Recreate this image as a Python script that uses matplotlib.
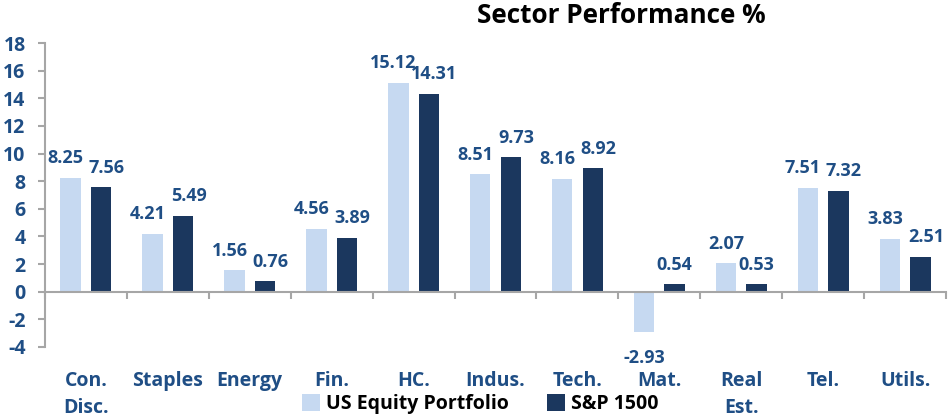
import numpy as np
import matplotlib
matplotlib.use("Agg")
from matplotlib import pyplot as plt

sectors = ["Con.\nDisc.", "Staples", "Energy", "Fin.", "HC.", "Indus.", "Tech.",
           "Mat.", "Real\nEst.", "Tel.", "Utils."]
portfolio = [8.25, 4.21, 1.56, 4.56, 15.12, 8.51, 8.16, -2.93, 2.07, 7.51, 3.83]
sp1500 = [7.56, 5.49, 0.76, 3.89, 14.31, 9.73, 8.92, 0.54, 0.53, 7.32, 2.51]
yticks = np.arange(-4, 19, 2)

light = "#C6D9F1"
dark = "#1B375E"
label_blue = "#1F4E85"
axis_gray = "#A6A6A6"

plt.rcParams['font.family'] = ['Open Sans', 'DejaVu Sans']
plt.rcParams['font.weight'] = 'bold'

fig = plt.figure(figsize=(9.51, 4.18), dpi=100)
ax = fig.add_axes([0.0473, 0.170, 0.9475, 0.727])

x = np.arange(len(sectors))
w = 0.25
off = 0.187
b1 = ax.bar(x - off, portfolio, w, color=light, label="US Equity Portfolio")
b2 = ax.bar(x + off, sp1500, w, color=dark, label="S&P 1500")


def add_label(rect, v, dx):
    cx = rect.get_x() + rect.get_width() / 2
    if v >= 0:
        ax.annotate(f"{v:.2f}", (cx, v), xytext=(dx, 10.5), textcoords="offset points",
                    ha="center", va="baseline", fontsize=13, color=label_blue,
                    fontweight="bold")
    else:
        ax.annotate(f"{v:.2f}", (cx, v), xytext=(dx, -12), textcoords="offset points",
                    ha="center", va="top", fontsize=13, color=label_blue,
                    fontweight="bold")


# nudge the two labels apart when they sit at nearly the same height
for r1, r2, v1, v2 in zip(b1, b2, portfolio, sp1500):
    close = abs(v1 - v2) < 1.5 and v1 >= 0 and v2 >= 0
    add_label(r1, v1, -3.5 if close else 0)
    add_label(r2, v2, 4 if close else 0)

ax.set_xlim(-0.5, len(sectors) - 0.5)
ax.set_ylim(-4, 18)
ax.set_yticks(yticks)
ax.set_yticklabels([str(t) for t in yticks])

for s in ["top", "right"]:
    ax.spines[s].set_visible(False)
ax.spines["bottom"].set_position(("data", 0))
ax.spines["bottom"].set_color(axis_gray)
ax.spines["bottom"].set_linewidth(1.5)
ax.spines["left"].set_color(axis_gray)
ax.spines["left"].set_linewidth(1.5)

ax.set_xticks(x)
ax.set_xticklabels(sectors, linespacing=1.45)
ax.set_xticks(np.arange(len(sectors) + 1) - 0.5, minor=True)
ax.tick_params(axis="x", which="major", length=0, pad=57, labelsize=14,
               labelcolor=label_blue)
ax.tick_params(axis="x", which="minor", length=5, width=1.5, color=axis_gray,
               direction="out")
ax.tick_params(axis="y", length=5, width=1.5, color=axis_gray, labelsize=14,
               labelcolor=label_blue, pad=9)
for lab in ax.get_xticklabels() + ax.get_yticklabels():
    lab.set_fontweight("bold")

fig.text(0.6535, 0.962, "Sector Performance %", ha="center", va="center",
         fontsize=18.8, fontweight="bold", color="black")

leg = fig.legend(handles=[b1, b2], loc="center", bbox_to_anchor=(0.505, 0.033),
                 ncol=2, frameon=False, handlelength=0.9, handleheight=0.9,
                 handletextpad=0.3, columnspacing=2.0, fontsize=14)
for t in leg.get_texts():
    t.set_fontweight("bold")

fig.savefig("out.png", dpi=100)
